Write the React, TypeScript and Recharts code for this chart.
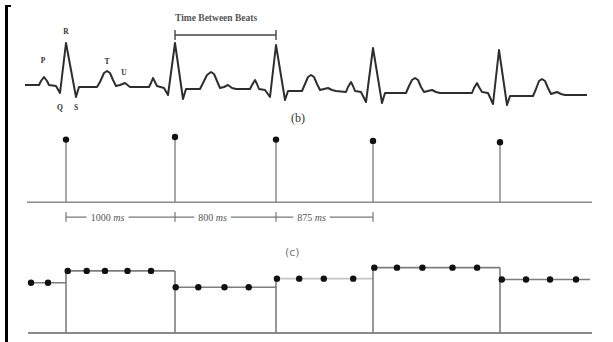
import React from 'react';
import { ComposedChart, Line, Scatter, XAxis, YAxis, ReferenceLine } from 'recharts';

// (a) ECG trace, time in px-units, amplitude in mV
const ecgTime = [
  25, 39, 41, 44, 47, 49, 56, 60, 66, 76, 79, 97, 100, 104, 107, 110, 113, 116, 120, 125, 130, 149,
  151, 153, 155, 157, 164, 168, 175, 183, 186, 200, 203, 207, 211, 214, 217, 220, 224, 228, 232, 236, 250,
  252, 255, 257, 259, 265, 270, 276, 285, 288, 302, 305, 308, 311, 314, 317, 320, 324, 328, 332, 336, 346,
  348, 351, 353, 355, 361, 366, 373, 382, 385, 406, 409, 412, 415, 418, 421, 424, 428, 432, 436, 440, 472,
  474, 477, 479, 482, 488, 493, 499, 507, 510, 533, 536, 539, 542, 545, 548, 551, 554, 557, 561, 565, 587,
];
const ecgMv = [
  0.04, 0.04, 0.12, 0.2, 0.12, 0.04, 0.02, -0.12, 0.88, -0.2, 0, 0, 0.1, 0.28, 0.32, 0.28, 0.14, 0.02, 0.04, 0.08, 0, 0,
  0.08, 0.18, 0.1, 0.02, -0.02, -0.16, 0.88, -0.24, -0.04, -0.04, 0.08, 0.24, 0.3, 0.26, 0.12, -0.02, 0, 0.04, -0.02, -0.04, -0.04,
  0.04, 0.14, 0.06, -0.04, -0.06, -0.2, 0.84, -0.26, -0.08, -0.08, 0.06, 0.2, 0.24, 0.2, 0.06, -0.06, -0.04, -0.02, -0.06, -0.08, -0.1,
  0, 0.1, 0.02, -0.08, -0.1, -0.3, 0.78, -0.32, -0.12, -0.12, 0.02, 0.14, 0.18, 0.14, 0, -0.1, -0.08, -0.06, -0.1, -0.12, -0.12,
  -0.02, 0.08, 0, -0.1, -0.12, -0.34, 0.74, -0.36, -0.18, -0.18, -0.04, 0.12, 0.16, 0.12, -0.02, -0.14, -0.12, -0.1, -0.14, -0.16, -0.16,
];

const waveNames = ['P', 'R', 'T', 'U', 'Q', 'S'];
const waveTime = [43, 66, 107, 124, 60, 76];
const waveMv = [0.54, 1.12, 0.52, 0.3, -0.4, -0.4];

// (b) beat events
const beatTimes = [66, 175, 276, 373, 500];
const beatAmp = [0.96, 1.0, 0.96, 0.94, 0.92];
const intervalMs = [1000, 800, 875];

// (c) resampled RR intervals
const rrLevels = [855, 1000, 800, 905, 1040, 895];
const rrStart = 28;
const rrEnd = 590;
const axisStart = 27;
const axisEnd = 592;
const sampleTimes = [31, 48, 67.7, 86.7, 105, 127.5, 151, 175.7, 198.3, 224.5, 248.7, 276.9, 299.2, 323.8, 353.2, 374.3, 397, 422.4, 452.5, 477.1, 501.8, 526, 550, 576];
const sampleRR = [855, 855, 1000, 1000, 1000, 1000, 1000, 800, 800, 800, 800, 905, 905, 905, 905, 1040, 1040, 1040, 1040, 1040, 895, 895, 895, 895];

const ecgData = ecgTime.map((t, i) => ({ t, v: ecgMv[i] }));
const waveData = waveTime.map((t, i) => ({ t, v: waveMv[i], name: waveNames[i] }));
const beatData = beatTimes.map((t, i) => ({ t, v: beatAmp[i] }));
const sampleData = sampleTimes.map((t, i) => ({ t, v: sampleRR[i] }));
const rrEdges = [rrStart, ...beatTimes, rrEnd];

const SERIF = "'Liberation Serif', 'DejaVu Serif', serif";
const W = 613;

const Dot = (p: any) => <circle cx={p.cx} cy={p.cy} r={3.2} fill="#111" />;

const WaveLabel = (p: any) => (
  <text x={p.cx} y={p.cy} textAnchor="middle" dominantBaseline="central" fontSize={7.5} fontWeight="bold" fontFamily={SERIF} fill="#333">
    {p.payload.name}
  </text>
);

const TitleLabel = (props: any) => {
  const { viewBox } = props;
  return (
    <text x={viewBox.x} y={viewBox.y - 14} fontSize={9.5} fontWeight="bold" fontFamily={SERIF} fill="#555">
      Time Between Beats
    </text>
  );
};

const intervalLabel = (ms: number) => (props: any) => {
  const { viewBox } = props;
  const cx = viewBox.x + viewBox.width / 2 - 13;
  const w = String(ms).length * 5.5 + 20;
  return (
    <g>
      <rect x={cx - w / 2} y={viewBox.y - 6} width={w} height={12} fill="#fff" />
      <text x={cx} y={viewBox.y} textAnchor="middle" dominantBaseline="central" fontSize={10} fontFamily={SERIF} fill="#555">
        {ms} <tspan fontStyle="italic">ms</tspan>
      </text>
    </g>
  );
};

export default function App() {
  return (
    <div style={{ position: 'absolute', left: 0, top: 0, width: W, height: 342, background: '#fff', overflow: 'hidden' }}>
      {/* left frame */}
      <div style={{ position: 'absolute', left: 5, top: 5, width: 3, height: 337, background: '#000' }} />
      <div style={{ position: 'absolute', left: 5, top: 5, width: 6, height: 2, background: '#000' }} />

      {/* ECG */}
      <div style={{ position: 'absolute', left: 0, top: 0 }}>
        <ComposedChart width={W} height={125} data={ecgData} margin={{ top: 20, right: 0, bottom: 10, left: 0 }}>
          <XAxis type="number" dataKey="t" domain={[0, W]} hide />
          <YAxis type="number" dataKey="v" domain={[-0.56, 1.34]} hide />
          <Line dataKey="v" type="linear" stroke="#2e2e2e" strokeWidth={2} strokeLinejoin="round" dot={false} isAnimationActive={false} />
          <Scatter data={waveData} dataKey="v" shape={WaveLabel} isAnimationActive={false} />
          <ReferenceLine
            segment={[{ x: beatTimes[1], y: 1.04 }, { x: beatTimes[2], y: 1.04 }]}
            stroke="#444"
            strokeWidth={1.4}
            label={TitleLabel}
          />
          {[beatTimes[1], beatTimes[2]].map((t) => (
            <ReferenceLine key={t} segment={[{ x: t, y: 1.14 }, { x: t, y: 0.94 }]} stroke="#444" strokeWidth={1.4} />
          ))}
        </ComposedChart>
      </div>
      <div style={{ position: 'absolute', left: 291, top: 111, fontFamily: SERIF, fontSize: 12, lineHeight: '14px', color: '#333' }}>(b)</div>

      {/* beat events */}
      <div style={{ position: 'absolute', left: 0, top: 130 }}>
        <ComposedChart width={W} height={100} data={beatData} margin={{ top: 7, right: 0, bottom: 5, left: 0 }}>
          <XAxis type="number" dataKey="t" domain={[0, W]} hide />
          <YAxis type="number" dataKey="v" domain={[-0.35, 1.0]} hide />
          <ReferenceLine segment={[{ x: axisStart, y: 0 }, { x: axisEnd, y: 0 }]} stroke="#8a8a8a" strokeWidth={1.6} />
          {beatTimes.map((t, i) => (
            <ReferenceLine key={'s' + t} segment={[{ x: t, y: 0 }, { x: t, y: beatAmp[i] }]} stroke="#8a8a8a" strokeWidth={1.5} />
          ))}
          {intervalMs.map((ms, i) => (
            <ReferenceLine
              key={'i' + ms}
              segment={[{ x: beatTimes[i], y: -0.23 }, { x: beatTimes[i + 1], y: -0.23 }]}
              stroke="#777"
              strokeWidth={1.2}
              label={intervalLabel(ms)}
            />
          ))}
          {beatTimes.slice(0, 4).map((t) => (
            <ReferenceLine key={'k' + t} segment={[{ x: t, y: -0.15 }, { x: t, y: -0.3 }]} stroke="#777" strokeWidth={1.2} />
          ))}
          <Scatter data={beatData} dataKey="v" shape={Dot} isAnimationActive={false} />
        </ComposedChart>
      </div>
      <div style={{ position: 'absolute', left: 285, top: 246, fontFamily: "'DejaVu Sans', sans-serif", fontSize: 11, lineHeight: '14px', color: '#777' }}>(c)</div>

      {/* RR step series */}
      <div style={{ position: 'absolute', left: 0, top: 250 }}>
        <ComposedChart width={W} height={92} data={sampleData} margin={{ top: 16, right: 0, bottom: 9, left: 0 }}>
          <XAxis type="number" dataKey="t" domain={[0, W]} hide />
          <YAxis type="number" dataKey="v" domain={[240, 1060]} hide />
          <ReferenceLine segment={[{ x: axisStart + 1, y: 240 }, { x: axisEnd, y: 240 }]} stroke="#8a8a8a" strokeWidth={1.8} />
          {rrLevels.map((lv, i) => (
            <ReferenceLine
              key={'h' + i}
              segment={[{ x: rrEdges[i], y: lv }, { x: rrEdges[i + 1], y: lv }]}
              stroke={i === 3 ? '#c4c4c4' : '#7d7d7d'}
              strokeWidth={1.6}
            />
          ))}
          {beatTimes.map((t, i) => (
            <ReferenceLine
              key={'v' + t}
              segment={[{ x: t, y: 240 }, { x: t, y: Math.max(rrLevels[i], rrLevels[i + 1]) }]}
              stroke="#7d7d7d"
              strokeWidth={1.6}
            />
          ))}
          <Scatter data={sampleData} dataKey="v" shape={Dot} isAnimationActive={false} />
        </ComposedChart>
      </div>
    </div>
  );
}
